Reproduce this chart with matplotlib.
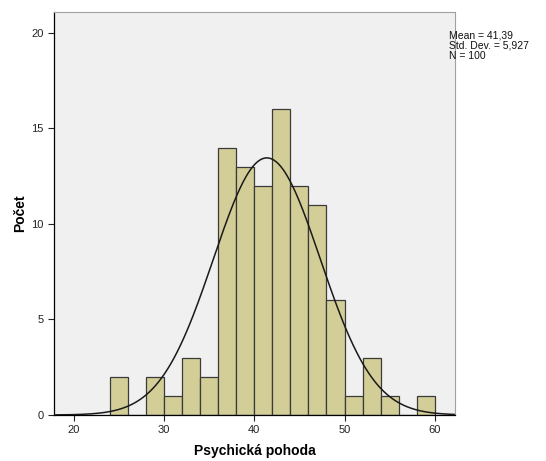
import numpy as np
import matplotlib
matplotlib.use("Agg")
import matplotlib.pyplot as plt

plt.rcParams['font.family'] = ['Liberation Sans', 'DejaVu Sans']

bin_edges = [24, 26, 28, 30, 32, 34, 36, 38, 40, 42, 44, 46, 48, 50, 52, 54, 56, 58, 60]
counts = [2, 0, 2, 1, 3, 2, 14, 13, 12, 16, 12, 11, 6, 1, 3, 1, 0, 1]
mean = 41.39
std = 5.927
n = 100
x_ticks = [20, 30, 40, 50, 60]
y_ticks = [0, 5, 10, 15, 20]

fig = plt.figure(figsize=(5.46, 4.61), dpi=100)
ax = fig.add_axes([0.0989, 0.0998, 0.7353, 0.8742])
ax.set_facecolor('#F0F0F0')

edges = np.array(bin_edges, dtype=float)
widths = np.diff(edges)
ax.bar(edges[:-1], counts, width=widths, align='edge', color='#D3CE97',
       edgecolor='#3a3a3a', linewidth=0.9, zorder=2)

xs = np.linspace(17.8, 62.3, 400)
bw = widths[0]
ys = n * bw / (std * np.sqrt(2 * np.pi)) * np.exp(-0.5 * ((xs - mean) / std) ** 2)
ax.plot(xs, ys, color='#1a1a1a', linewidth=1.1, zorder=3)

ax.set_xlim(17.8, 62.3)
ax.set_ylim(0, 21.1)
ax.set_xticks(x_ticks)
ax.set_yticks(y_ticks)
ax.tick_params(axis='both', labelsize=8, colors='#222222', length=4, width=0.8)

for s in ['top', 'right']:
    ax.spines[s].set_color('#a0a0a0')
    ax.spines[s].set_linewidth(0.8)
for s in ['left', 'bottom']:
    ax.spines[s].set_color('#000000')
    ax.spines[s].set_linewidth(0.9)

ax.set_xlabel('Psychická pohoda', fontsize=10, fontweight='bold', labelpad=6)
ax.set_ylabel('Počet', fontsize=10, fontweight='bold', labelpad=3)

fig.text(449 / 546, 1 - 31 / 461, 'Mean = 41,39\nStd. Dev. = 5,927\nN = 100',
         fontsize=7.5, va='top', ha='left', linespacing=1.0, color='#111111')

fig.savefig('out.png', dpi=100, facecolor='white')
